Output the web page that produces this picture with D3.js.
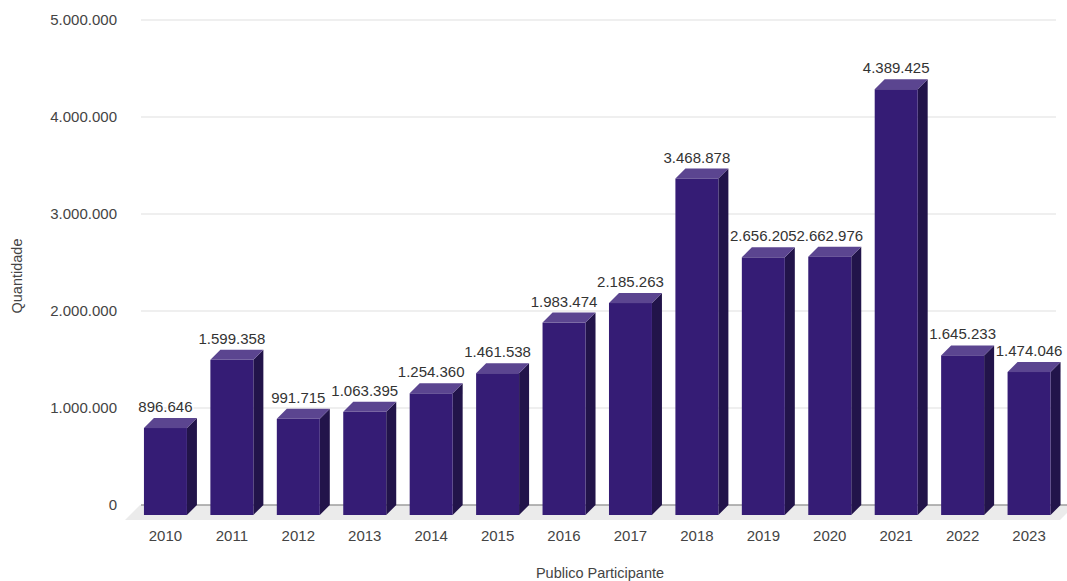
<!DOCTYPE html>
<html>
<head>
<meta charset="utf-8">
<script src="https://d3js.org/d3.v7.min.js"></script>
<style>
  body { margin: 0; background: #fff; }
  text { font-family: "Liberation Sans", Arial, sans-serif; }
</style>
</head>
<body>
<div id="chart"></div>
<script>
const years = ["2010","2011","2012","2013","2014","2015","2016","2017","2018","2019","2020","2021","2022","2023"];
const values = [896646, 1599358, 991715, 1063395, 1254360, 1461538, 1983474, 2185263, 3468878, 2656205, 2662976, 4389425, 1645233, 1474046];
const yTicks = [0, 1000000, 2000000, 3000000, 4000000, 5000000];

const w = 1067, h = 581;
const depth = 10; // 3d offset

const svg = d3.select("#chart").append("svg")
  .attr("width", w).attr("height", h);

// front plane x scale
const x = d3.scaleBand()
  .domain(years)
  .range([120.5, 1074])
  .paddingInner(0.353)
  .paddingOuter(0.353);

// back plane y scale
const y = d3.scaleLinear()
  .domain([0, 5000000])
  .range([505, 20]);

const fmt = v => d3.format(",")(v).replace(/,/g, ".");

// floor
svg.append("polygon")
  .attr("points", [[140, y(0)], [1075, y(0)], [1060, y(0) + 15], [125, y(0) + 15]].map(p => p.join(",")).join(" "))
  .attr("fill", "#ebebeb");

// gridlines
svg.append("g").selectAll("line")
  .data(yTicks)
  .join("line")
  .attr("x1", 141).attr("x2", d => d === 0 ? 1067 : 1056)
  .attr("y1", d => y(d)).attr("y2", d => y(d))
  .attr("stroke", d => d === 0 ? "#9e9e9e" : "#e0e0e0")
  .attr("stroke-width", d => d === 0 ? 1.5 : 1.2);

// y tick labels
svg.append("g").selectAll("text")
  .data(yTicks)
  .join("text")
  .attr("x", 117)
  .attr("y", d => y(d))
  .attr("dy", "0.35em")
  .attr("text-anchor", "end")
  .attr("font-size", 15)
  .attr("fill", "#444")
  .text(d => fmt(d));

// bars
const bars = svg.append("g").selectAll("g")
  .data(years.map((yr, i) => ({ yr, v: values[i] })))
  .join("g");

// side face
bars.append("polygon")
  .attr("points", d => {
    const xr = x(d.yr) + x.bandwidth();
    const yt = y(d.v) + depth, yb = y(0) + depth;
    return [[xr, yt], [xr + depth, yt - depth], [xr + depth, yb - depth], [xr, yb]].map(p => p.join(",")).join(" ");
  })
  .attr("fill", "#22144a");

// top face
bars.append("polygon")
  .attr("points", d => {
    const xl = x(d.yr), xr = xl + x.bandwidth();
    const yt = y(d.v) + depth;
    return [[xl, yt], [xl + depth, yt - depth], [xr + depth, yt - depth], [xr, yt]].map(p => p.join(",")).join(" ");
  })
  .attr("fill", "#5b4590");

// front face
bars.append("rect")
  .attr("x", d => x(d.yr))
  .attr("y", d => y(d.v) + depth)
  .attr("width", x.bandwidth())
  .attr("height", d => y(0) - y(d.v))
  .attr("fill", "#351c75");

// value labels
svg.append("g").selectAll("text")
  .data(years.map((yr, i) => ({ yr, v: values[i] })))
  .join("text")
  .attr("x", d => x(d.yr) + x.bandwidth() / 2)
  .attr("y", d => y(d.v) - 6)
  .attr("text-anchor", "middle")
  .attr("font-size", 15)
  .attr("fill", "#333")
  .attr("stroke", "#fff")
  .attr("stroke-width", 3)
  .attr("paint-order", "stroke")
  .text(d => fmt(d.v));

// x tick labels
svg.append("g").selectAll("text")
  .data(years)
  .join("text")
  .attr("x", d => x(d) + x.bandwidth() / 2)
  .attr("y", 541)
  .attr("text-anchor", "middle")
  .attr("font-size", 15)
  .attr("fill", "#444")
  .text(d => d);

// axis titles
svg.append("text")
  .attr("x", 600).attr("y", 578)
  .attr("text-anchor", "middle")
  .attr("font-size", 14.5)
  .attr("fill", "#444")
  .text("Publico Participante");

svg.append("text")
  .attr("transform", "translate(22,276) rotate(-90)")
  .attr("text-anchor", "middle")
  .attr("font-size", 14.5)
  .attr("fill", "#444")
  .text("Quantidade");
</script>
</body>
</html>
